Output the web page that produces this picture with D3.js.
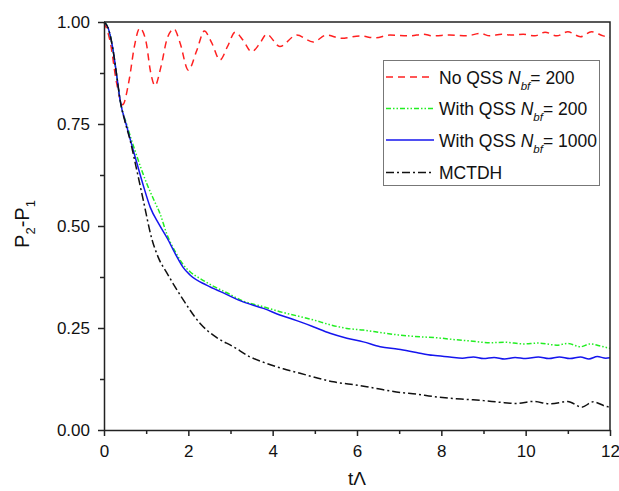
<!DOCTYPE html>
<html>
<head>
<meta charset="utf-8">
<script src="https://cdn.jsdelivr.net/npm/d3@7"></script>
<style>
  body { margin: 0; background: #fff; }
  svg { font-family: "Liberation Sans", Arial, sans-serif; }
</style>
</head>
<body>
<div id="chart"></div>
<script>
// [t, P2-P1]
const noQss200 = [[0,1.0],[0.15,0.95],[0.3,0.85],[0.44,0.797],[0.6,0.86],[0.72,0.94],[0.85,0.985],[1.0,0.95],[1.1,0.88],[1.21,0.844],[1.35,0.89],[1.5,0.96],[1.66,0.983],[1.8,0.95],[2.0,0.882],[2.2,0.93],[2.38,0.978],[2.55,0.95],[2.75,0.907],[2.93,0.94],[3.11,0.975],[3.3,0.955],[3.5,0.927],[3.68,0.945],[3.86,0.97],[4.17,0.94],[4.57,0.968],[4.96,0.951],[5.28,0.968],[5.63,0.96],[6.07,0.966],[6.43,0.961],[6.78,0.968],[7.26,0.966],[7.57,0.97],[7.8,0.966],[8.2,0.968],[8.6,0.966],[8.92,0.972],[9.15,0.966],[9.43,0.97],[9.7,0.968],[9.94,0.97],[10.22,0.966],[10.46,0.975],[10.74,0.966],[11.0,0.976],[11.3,0.964],[11.56,0.976],[11.84,0.966],[12,0.962]];

const qss200 = [[0,1.0],[0.1,0.985],[0.2,0.94],[0.3,0.87],[0.38,0.81],[0.55,0.745],[0.75,0.68],[1.01,0.605],[1.2,0.56],[1.33,0.53],[1.49,0.48],[1.7,0.435],[1.88,0.405],[2.04,0.388],[2.3,0.37],[2.6,0.352],[2.9,0.337],[3.3,0.316],[3.78,0.302],[4.17,0.29],[4.57,0.28],[4.96,0.27],[5.36,0.258],[5.76,0.249],[6.15,0.245],[6.55,0.239],[6.98,0.233],[7.3,0.23],[7.57,0.228],[7.9,0.226],[8.36,0.221],[8.7,0.218],[9.15,0.214],[9.5,0.215],[9.94,0.211],[10.3,0.213],[10.74,0.208],[11.0,0.212],[11.3,0.204],[11.53,0.211],[11.8,0.205],[12,0.2]];

const qss1000 = [[0,1.0],[0.1,0.985],[0.2,0.94],[0.3,0.87],[0.38,0.81],[0.55,0.74],[0.75,0.665],[0.93,0.6],[1.1,0.545],[1.3,0.505],[1.5,0.47],[1.7,0.43],[1.88,0.398],[2.04,0.38],[2.43,0.355],[2.83,0.336],[3.3,0.314],[3.78,0.298],[4.17,0.282],[4.57,0.268],[4.96,0.253],[5.36,0.237],[5.76,0.225],[6.15,0.216],[6.55,0.204],[6.98,0.198],[7.41,0.19],[7.8,0.183],[8.2,0.179],[8.5,0.176],[8.76,0.179],[9.0,0.175],[9.25,0.178],[9.5,0.174],[9.75,0.178],[10.0,0.175],[10.3,0.179],[10.55,0.175],[10.8,0.179],[11.05,0.175],[11.3,0.179],[11.5,0.174],[11.7,0.18],[11.9,0.176],[12,0.177]];

const mctdh = [[0,1.0],[0.1,0.985],[0.2,0.94],[0.3,0.87],[0.38,0.81],[0.5,0.755],[0.62,0.71],[0.75,0.65],[0.93,0.564],[1.13,0.47],[1.3,0.42],[1.49,0.385],[1.88,0.319],[2.28,0.261],[2.65,0.228],[3.07,0.204],[3.45,0.18],[3.86,0.163],[4.25,0.15],[4.65,0.139],[5.08,0.127],[5.44,0.118],[5.85,0.112],[6.23,0.106],[6.6,0.099],[7.02,0.092],[7.4,0.088],[7.81,0.082],[8.2,0.078],[8.6,0.075],[9.0,0.072],[9.39,0.068],[9.78,0.065],[10.18,0.07],[10.58,0.064],[11.0,0.07],[11.33,0.056],[11.6,0.069],[11.96,0.057],[12,0.058]];

const series = [
  { name: "No QSS ", nbf: "= 200", data: noQss200, color: "#ff2020", dash: "7,5" },
  { name: "With QSS ", nbf: "= 200", data: qss200, color: "#22ee22", dash: "5,2,1.5,2,1.5,2" },
  { name: "With QSS ", nbf: "= 1000", data: qss1000, color: "#1515ee", dash: null },
  { name: "MCTDH", nbf: null, data: mctdh, color: "#111", dash: "8,3,2,3" }
];

const xTicks = [0, 2, 4, 6, 8, 10, 12];
const yTicks = [0, 0.25, 0.5, 0.75, 1.0];

const width = 619, height = 491;
const mLeft = 104, mRight = 610, mTop = 22, mBottom = 430;

const x = d3.scaleLinear().domain([0, 12]).range([mLeft, mRight]);
const y = d3.scaleLinear().domain([0, 1]).range([mBottom, mTop]);

const svg = d3.select("#chart")
  .append("svg")
  .attr("width", width)
  .attr("height", height);

const line = d3.line()
  .x(d => x(d[0]))
  .y(d => y(d[1]))
  .curve(d3.curveMonotoneX);

const plot = svg.append("g");

plot.selectAll("path")
  .data(series)
  .join("path")
  .attr("fill", "none")
  .attr("stroke", d => d.color)
  .attr("stroke-width", 1.5)
  .attr("stroke-dasharray", d => d.dash)
  .attr("d", d => line(d.data));

// frame (top and right)
svg.append("path")
  .attr("fill", "none")
  .attr("stroke", "#222")
  .attr("stroke-width", 1.5)
  .attr("d", `M${mLeft},${mTop}H${mRight}V${mBottom}`);

// minor ticks
svg.append("g")
  .attr("transform", `translate(0,${mBottom})`)
  .call(d3.axisBottom(x).tickValues([1, 3, 5, 7, 9, 11]).tickSize(4).tickSizeOuter(0).tickFormat(""))
  .call(g => g.select(".domain").remove())
  .selectAll("line").attr("stroke", "#222").attr("stroke-width", 1.5);

svg.append("g")
  .attr("transform", `translate(${mLeft},0)`)
  .call(d3.axisLeft(y).tickValues([0.125, 0.375, 0.625, 0.875]).tickSize(4).tickSizeOuter(0).tickFormat(""))
  .call(g => g.select(".domain").remove())
  .selectAll("line").attr("stroke", "#222").attr("stroke-width", 1.5);

// major axes
const xAxis = svg.append("g")
  .attr("transform", `translate(0,${mBottom})`)
  .call(d3.axisBottom(x).tickValues(xTicks).tickSize(6).tickSizeOuter(0).tickPadding(9).tickFormat(d3.format("d")));

const yAxis = svg.append("g")
  .attr("transform", `translate(${mLeft},0)`)
  .call(d3.axisLeft(y).tickValues(yTicks).tickSize(6).tickSizeOuter(0).tickPadding(8).tickFormat(d3.format(".2f")));

[xAxis, yAxis].forEach(g => {
  g.selectAll("line, path").attr("stroke", "#222").attr("stroke-width", 1.5);
  g.selectAll("text").attr("font-size", 17).attr("fill", "#111")
    .attr("font-family", "Liberation Sans, Arial, sans-serif");
});

// axis titles
svg.append("text")
  .attr("x", (mLeft + mRight) / 2)
  .attr("y", 485)
  .attr("text-anchor", "middle")
  .attr("font-size", 19)
  .attr("fill", "#111")
  .text("tΛ");

const yTitle = svg.append("text")
  .attr("transform", `translate(29,${(mTop + mBottom) / 2 - 2}) rotate(-90)`)
  .attr("text-anchor", "middle")
  .attr("font-size", 20)
  .attr("fill", "#111");
yTitle.append("tspan").text("P");
yTitle.append("tspan").attr("font-size", 13).attr("dy", 6).text("2");
yTitle.append("tspan").attr("dy", -6).text("-P");
yTitle.append("tspan").attr("font-size", 13).attr("dy", 6).text("1");

// legend
const lg = svg.append("g");
lg.append("rect")
  .attr("x", 383.5).attr("y", 60.5)
  .attr("width", 216).attr("height", 125)
  .attr("fill", "#fff")
  .attr("stroke", "#777")
  .attr("stroke-width", 1);

const rowY = [77, 108.5, 140, 172.5];

const items = lg.selectAll("g.item")
  .data(series)
  .join("g")
  .attr("transform", (d, i) => `translate(0,${rowY[i]})`);

items.append("line")
  .attr("x1", 386).attr("x2", 434)
  .attr("stroke", d => d.color)
  .attr("stroke-width", 1.5)
  .attr("stroke-dasharray", d => d.dash);

const label = items.append("text")
  .attr("x", 439)
  .attr("y", 6.5)
  .attr("font-size", 17.5)
  .attr("fill", "#111");

label.append("tspan").text(d => d.name);
label.filter(d => d.nbf).append("tspan").attr("font-style", "italic").text("N");
label.filter(d => d.nbf).append("tspan").attr("font-style", "italic").attr("font-size", 11.5).attr("dy", 6).text("bf");
label.filter(d => d.nbf).append("tspan").attr("dy", -6).text(d => d.nbf);
</script>
</body>
</html>
